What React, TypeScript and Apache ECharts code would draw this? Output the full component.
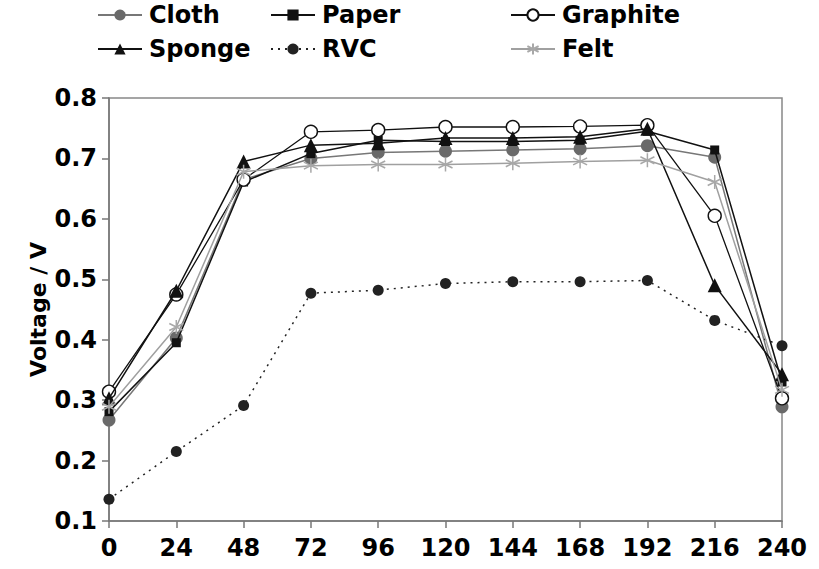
import React, { useEffect, useRef } from "react";
import * as echarts from "echarts";

const hours = [0, 24, 48, 72, 96, 120, 144, 168, 192, 216, 240];
const xTicks = [0, 24, 48, 72, 96, 120, 144, 168, 192, 216, 240];
const yTicks = [0.1, 0.2, 0.3, 0.4, 0.5, 0.6, 0.7, 0.8];

const cloth = [0.267, 0.403, 0.665, 0.70, 0.71, 0.712, 0.714, 0.716, 0.721, 0.702, 0.289];
const paper = [0.281, 0.395, 0.661, 0.708, 0.73, 0.728, 0.728, 0.73, 0.745, 0.714, 0.33];
const graphite = [0.314, 0.475, 0.665, 0.744, 0.747, 0.752, 0.752, 0.753, 0.755, 0.605, 0.303];
const sponge = [0.303, 0.481, 0.695, 0.722, 0.725, 0.734, 0.734, 0.736, 0.749, 0.49, 0.343];
const rvc = [0.136, 0.215, 0.291, 0.477, 0.482, 0.493, 0.496, 0.496, 0.498, 0.432, 0.39];
const felt = [0.289, 0.421, 0.678, 0.688, 0.69, 0.69, 0.692, 0.695, 0.697, 0.661, 0.317];

const FONT = "DejaVu Sans, Arial, sans-serif";
const asterisk = "path://M0 -10 L0 10 M-8.66 -5 L8.66 5 M-8.66 5 L8.66 -5";

const pair = (ys: number[]) => hours.map((h, i) => [h, ys[i]]);

export default function App() {
  const ref = useRef<HTMLDivElement>(null);
  useEffect(() => {
    if (!ref.current) return;
    const chart = echarts.init(ref.current, undefined, { renderer: "svg" });
    const series: any[] = [
      {
        name: "Cloth", data: pair(cloth), symbol: "circle", symbolSize: 13,
        lineStyle: { color: "#777", width: 1.5 },
        itemStyle: { color: "#6a6a6a" },
      },
      {
        name: "Paper", data: pair(paper), symbol: "rect", symbolSize: 9,
        lineStyle: { color: "#111", width: 1.5 },
        itemStyle: { color: "#111" },
      },
      {
        name: "Graphite", data: pair(graphite), symbol: "circle", symbolSize: 13,
        lineStyle: { color: "#111", width: 1.3 },
        itemStyle: { color: "#fff", borderColor: "#111", borderWidth: 1.4 },
      },
      {
        name: "Sponge", data: pair(sponge), symbol: "triangle", symbolSize: 14,
        lineStyle: { color: "#111", width: 1.5 },
        itemStyle: { color: "#111" },
      },
      {
        name: "RVC", data: pair(rvc), symbol: "circle", symbolSize: 11,
        lineStyle: { color: "#222", width: 1.5, type: [2, 5] },
        itemStyle: { color: "#222" },
      },
      {
        name: "Felt", data: pair(felt), symbol: asterisk, symbolSize: 14,
        lineStyle: { color: "#a0a0a0", width: 1.5 },
        itemStyle: { color: "none", borderColor: "#a8a8a8", borderWidth: 1.5 },
      },
    ].map((s, i) => ({ ...s, type: "line", showSymbol: true, z: 3 + i }));

    const legendPos: Record<string, [number, number]> = {
      Cloth: [97, 3],
      Paper: [270, 3],
      Graphite: [510, 3],
      Sponge: [97, 37],
      RVC: [270, 37],
      Felt: [510, 37],
    };
    const legends = Object.keys(legendPos).map((name) => ({
      data: [name],
      left: legendPos[name][0],
      top: legendPos[name][1],
      padding: 0,
      itemWidth: 44,
      itemHeight: 14,
      itemGap: 4,
      textStyle: { fontFamily: FONT, fontSize: 24, fontWeight: "bold", color: "#000", padding: [0, 0, 0, 2] },
      selectedMode: false,
    }));

    chart.setOption({
      animation: false,
      backgroundColor: "#fff",
      legend: legends,
      grid: {
        left: 109, right: 37, top: 98, bottom: 48,
        show: true, borderColor: "#888", borderWidth: 1.5,
      },
      xAxis: {
        type: "value", min: 0, max: 240, interval: 24,
        axisLine: { show: true, lineStyle: { color: "#777", width: 1.5 } },
        axisTick: { show: true, length: 7, lineStyle: { color: "#777", width: 1.5 } },
        splitLine: { show: false },
        axisLabel: {
          fontFamily: FONT, fontSize: 24, fontWeight: "bold", color: "#000", margin: 15,
          formatter: (v: number) => (xTicks.includes(v) ? String(v) : ""),
        },
      },
      yAxis: {
        type: "value", min: 0.1, max: 0.8, interval: 0.1,
        name: "Voltage / V", nameLocation: "middle", nameGap: 71,
        nameMoveOverlap: false,
        nameTextStyle: { fontFamily: FONT, fontSize: 22, fontWeight: "bold", color: "#000", verticalAlign: "middle" },
        axisLine: { show: true, lineStyle: { color: "#777", width: 1.5 } },
        axisTick: { show: true, length: 7, lineStyle: { color: "#777", width: 1.5 } },
        splitLine: { show: false },
        axisLabel: {
          fontFamily: FONT, fontSize: 24, fontWeight: "bold", color: "#000", margin: 12,
          formatter: (v: number) => {
            const t = yTicks.find((y) => Math.abs(y - v) < 1e-6);
            return t !== undefined ? t.toFixed(1) : "";
          },
        },
      },
      series,
    });
    return () => chart.dispose();
  }, []);
  return (
    <div
      ref={ref}
      style={{ position: "absolute", left: 0, top: 0, width: 819, height: 569 }}
    />
  );
}
